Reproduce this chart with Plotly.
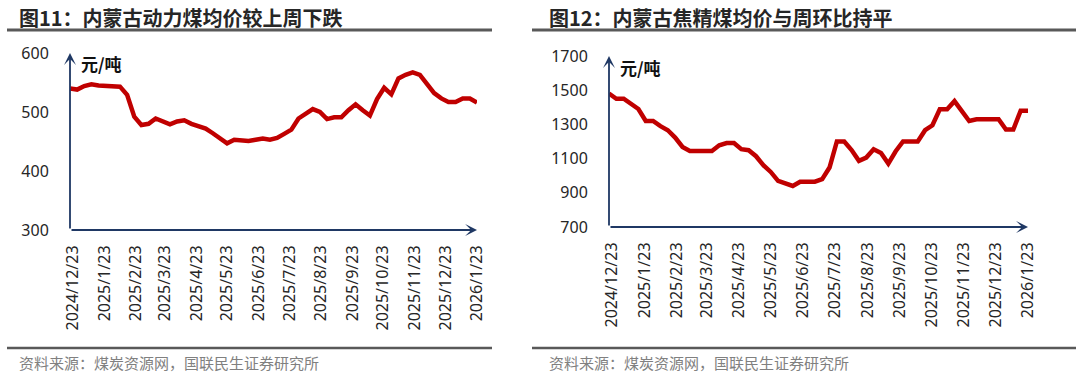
import pandas as pd
import plotly.graph_objects as go

W, H = 1080, 380

# ---- data ----
dates = pd.date_range("2024-12-20", periods=58, freq="7D")
thermal_price = [540, 538, 544, 547, 545, 544, 543, 543, 529, 492, 478, 480, 489, 484, 479,
                 484, 486, 480, 476, 472, 464, 455, 447, 453, 452, 451, 453, 455, 453, 456,
                 463, 470, 489, 497, 505, 500, 488, 491, 491, 503, 513, 503, 494, 522, 541,
                 530, 557, 563, 567, 563, 546, 532, 523, 517, 517, 523, 523, 516]
coking_price = [1480, 1450, 1450, 1420, 1390, 1320, 1320, 1290, 1266, 1223, 1168, 1145, 1145,
                1145, 1145, 1178, 1191, 1191, 1155, 1149, 1114, 1061, 1022, 970, 955, 940, 965,
                965, 965, 980, 1048, 1200, 1200, 1150, 1087, 1106, 1155, 1133, 1071, 1143, 1200,
                1200, 1200, 1266, 1295, 1388, 1388, 1436, 1378, 1320, 1330, 1330, 1330, 1330,
                1270, 1270, 1380, 1380]
tick_dates = ["2024-12-23", "2025-01-23", "2025-02-23", "2025-03-23", "2025-04-23",
              "2025-05-23", "2025-06-23", "2025-07-23", "2025-08-23", "2025-09-23",
              "2025-10-23", "2025-11-23", "2025-12-23", "2026-01-23"]
tick_labels = ["2024/12/23", "2025/1/23", "2025/2/23", "2025/3/23", "2025/4/23",
               "2025/5/23", "2025/6/23", "2025/7/23", "2025/8/23", "2025/9/23",
               "2025/10/23", "2025/11/23", "2025/12/23", "2026/1/23"]
left_yticks = [300, 400, 500, 600]
right_yticks = [700, 900, 1100, 1300, 1500, 1700]
title_left = "图11：内蒙古动力煤均价较上周下跌"
title_right = "图12：内蒙古焦精煤均价与周环比持平"
source_text = "资料来源：煤炭资源网，国联民生证券研究所"
unit_text = "元/吨"

CJK = "Noto Sans CJK SC"
NUM = "Noto Sans, Open Sans, sans-serif"
RED = "#C00000"
NAVY = "#1F3864"


def px(x):
    return x / W


def py(y):
    return 1 - y / H


fig = go.Figure()
fig.add_trace(go.Scatter(x=dates, y=thermal_price, mode="lines",
                         line=dict(color=RED, width=4.5), xaxis="x", yaxis="y",
                         showlegend=False, hoverinfo="skip"))
fig.add_trace(go.Scatter(x=dates, y=coking_price, mode="lines",
                         line=dict(color=RED, width=4.5), xaxis="x2", yaxis="y2",
                         showlegend=False, hoverinfo="skip"))

xcommon = dict(type="date", range=[dates[0], dates[-1]], tickvals=tick_dates,
               ticktext=tick_labels, tickangle=-90, showgrid=False, zeroline=False,
               showline=False, ticks="outside", ticklen=8, tickcolor="rgba(0,0,0,0)",
               automargin=False,
               tickfont=dict(family=NUM, size=16, color="#262626"))
ycommon = dict(showgrid=False, zeroline=False, showline=False, ticks="outside",
               ticklen=17, tickcolor="rgba(0,0,0,0)", automargin=False,
               tickfont=dict(family=NUM, size=16, color="#262626"))

fig.update_layout(
    width=W, height=H,
    margin=dict(l=0, r=0, t=0, b=0, pad=0, autoexpand=False),
    paper_bgcolor="white", plot_bgcolor="white",
    xaxis=dict(domain=[px(70), px(477)], anchor="y", **xcommon),
    yaxis=dict(domain=[py(230), py(53)], range=[300, 600], tickvals=left_yticks,
               anchor="x", **ycommon),
    xaxis2=dict(domain=[px(609), px(1028)], anchor="y2", **xcommon),
    yaxis2=dict(domain=[py(227), py(56)], range=[700, 1700], tickvals=right_yticks,
                anchor="x2", **ycommon),
)

ann = []
# axis arrows
for xs, ys in [("x", "y"), ("x2", "y2")]:
    for (tx, ty) in [(1, 0), (0, 1)]:
        ann.append(dict(xref=f"{xs} domain", yref=f"{ys} domain",
                        axref=f"{xs} domain", ayref=f"{ys} domain",
                        x=tx, y=ty, ax=0, ay=0, text="", showarrow=True,
                        arrowhead=3, arrowsize=1.1, arrowwidth=1.8, arrowcolor=NAVY))

# titles
ann.append(dict(xref="paper", yref="paper", x=px(17), y=py(17), xanchor="left",
                yanchor="middle", showarrow=False, text=f"<b>{title_left}</b>",
                font=dict(family=CJK, size=20, color="#262626")))
ann.append(dict(xref="paper", yref="paper", x=px(547), y=py(17), xanchor="left",
                yanchor="middle", showarrow=False, text=f"<b>{title_right}</b>",
                font=dict(family=CJK, size=20, color="#262626")))
# units
ann.append(dict(xref="paper", yref="paper", x=px(79), y=py(64), xanchor="left",
                yanchor="middle", showarrow=False, text=f"<b>{unit_text}</b>",
                font=dict(family=CJK, size=17, color="#111111")))
ann.append(dict(xref="paper", yref="paper", x=px(618), y=py(67), xanchor="left",
                yanchor="middle", showarrow=False, text=f"<b>{unit_text}</b>",
                font=dict(family=CJK, size=17, color="#111111")))
# sources
for x0 in (17, 547):
    ann.append(dict(xref="paper", yref="paper", x=px(x0), y=py(362), xanchor="left",
                    yanchor="middle", showarrow=False, text=source_text,
                    font=dict(family=CJK, size=15, color="#808080")))
fig.update_layout(annotations=ann)

shapes = []
for (x0, x1) in [(7, 492), (532, 1076)]:
    shapes.append(dict(type="line", xref="paper", yref="paper", x0=px(x0), x1=px(x1),
                       y0=py(30), y1=py(30), line=dict(color="#595959", width=3)))
    shapes.append(dict(type="line", xref="paper", yref="paper", x0=px(x0), x1=px(x1),
                       y0=py(348), y1=py(348), line=dict(color="#595959", width=2.5)))
fig.update_layout(shapes=shapes)

fig.write_html("out.html",
               config={"displayModeBar": False, "staticPlot": True},
               post_script="document.body.style.margin='0';"
                           "document.body.style.overflow='hidden';")
